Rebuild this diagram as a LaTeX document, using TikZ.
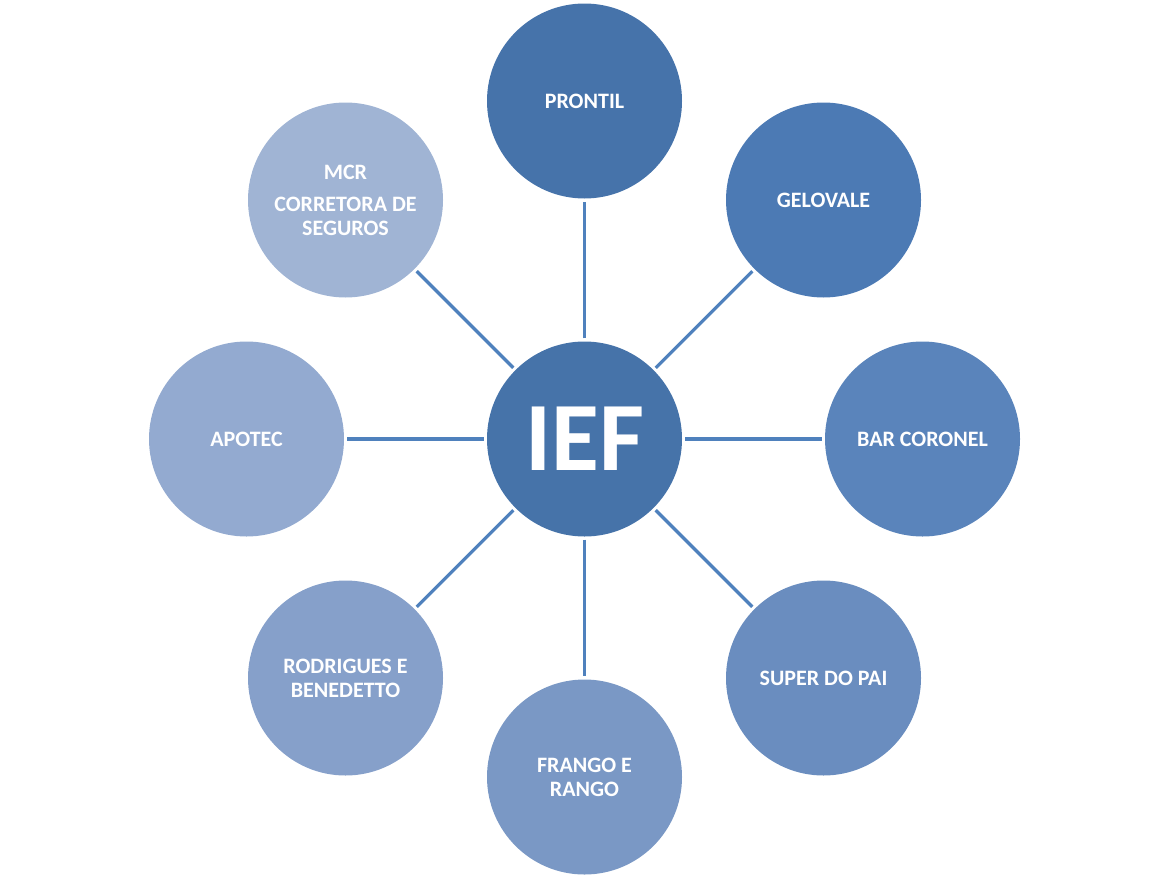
\documentclass[tikz,border=0pt]{standalone}
\usepackage{fontspec}
\setmainfont{Carlito}
\usepackage{tikz}
\usepackage{xcolor}
\definecolor{iefBlue}{HTML}{4673A9}
\definecolor{lineBlue}{HTML}{4F81BD}
\definecolor{cOne}{HTML}{4673AA}
\definecolor{cTwo}{HTML}{4C7AB4}
\definecolor{cThree}{HTML}{5A84BB}
\definecolor{cFour}{HTML}{6A8DBF}
\definecolor{cFive}{HTML}{7A98C5}
\definecolor{cSix}{HTML}{86A0CA}
\definecolor{cSeven}{HTML}{93AAD0}
\definecolor{cEight}{HTML}{A0B4D4}

\begin{document}
\begin{tikzpicture}[
      x=1pt, y=-1pt,
      bubble/.style={circle, minimum size=195pt, inner sep=0pt, align=center,
        text=white, font=\fontsize{22}{24}\selectfont\bfseries},
      hub/.style={bubble, fill=iefBlue, font=\fontsize{98}{100}\selectfont\bfseries},
      spoke/.style={draw=lineBlue, line width=3.2pt, shorten >=3pt, shorten <=3pt},
    ]
    \useasboundingbox (0,0) rectangle (1169,878);
    \node[hub] (ief) at (584.5,439) {IEF};
    \node[bubble, fill=cOne] (prontil) at (584.5,101) {PRONTIL};
    \node[bubble, fill=cTwo] (gelovale) at (823.5,200) {GELOVALE};
    \node[bubble, fill=cThree] (coronel) at (922.5,439) {BAR CORONEL};
    \node[bubble, fill=cFour] (superpai) at (823.5,678) {SUPER DO PAI};
    \node[bubble, fill=cFive] (frango) at (584.5,777) {FRANGO E\\RANGO};
    \node[bubble, fill=cSix] (rodrigues) at (345.5,678) {RODRIGUES E\\BENEDETTO};
    \node[bubble, fill=cSeven] (apotec) at (246.5,439) {APOTEC};
    \node[bubble, fill=cEight] (mcr) at (345.5,200) {MCR\\[8pt]CORRETORA DE\\SEGUROS};
    \draw[spoke] (ief) -- (prontil);
    \draw[spoke] (ief) -- (gelovale);
    \draw[spoke] (ief) -- (coronel);
    \draw[spoke] (ief) -- (superpai);
    \draw[spoke] (ief) -- (frango);
    \draw[spoke] (ief) -- (rodrigues);
    \draw[spoke] (ief) -- (apotec);
    \draw[spoke] (ief) -- (mcr);
  \end{tikzpicture}
\end{document}
